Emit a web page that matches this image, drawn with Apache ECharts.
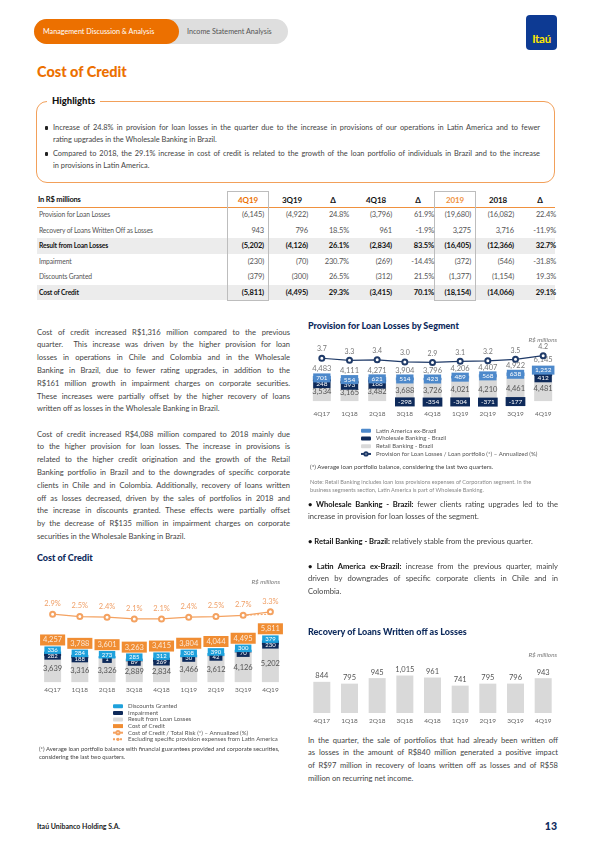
<!DOCTYPE html>
<html><head><meta charset="utf-8">
<script src="https://cdn.jsdelivr.net/npm/echarts@6/dist/echarts.min.js"></script>
<style>
html,body{margin:0;padding:0}
body{width:595px;height:842px;position:relative;background:#fff;font-family:Lato,'Open Sans',sans-serif;color:#3c3c3c;overflow:hidden}
.a{position:absolute}
.ln{position:absolute;white-space:nowrap}
.jl{text-align:justify;text-align-last:justify}
.tb{position:absolute;font-family:Lato,sans-serif;font-size:7.5px;white-space:nowrap;letter-spacing:-0.15px}
</style></head><body>
<div class="a" style="left:34px;top:19px;width:254px;height:25px;border-radius:13px;background:#dedede"></div>
<div class="a" style="left:34px;top:19px;width:145px;height:25px;border-radius:13px;background:#ec7000"></div>
<div class="a" style="left:43px;top:19px;line-height:25px;font-size:7.2px;color:#fff">Management Discussion &amp; Analysis</div>
<div class="a" style="left:187px;top:19px;line-height:25px;font-size:7.2px;color:#555">Income Statement Analysis</div>
<div class="a" style="left:526px;top:15px;width:31px;height:35px;border-radius:4px;background:#0d3a93;color:#ffe600;font-weight:bold;font-size:11.5px;line-height:12px;text-align:center;box-sizing:border-box;padding-top:18px;letter-spacing:-0.3px">Itaú</div>
<div class="a" style="left:37px;top:63px;font-weight:900;font-size:14.5px;line-height:18px;color:#ec7000">Cost of Credit</div>

<div class="a" style="left:36px;top:101px;width:519px;height:82px;border:1px solid #f2a05a;border-radius:11px;box-sizing:border-box"></div>
<div class="a" style="left:47px;top:95px;padding:0 5px;background:#fff;font-weight:900;font-size:9.5px;line-height:12px;color:#111">Highlights</div>

<div id="chartA" class="a" style="left:300px;top:335px;width:258px;height:150px"></div>
<div id="chartB" class="a" style="left:30px;top:585px;width:265px;height:190px"></div>
<div id="chartC" class="a" style="left:300px;top:655px;width:258px;height:75px"></div>

<script>
// ---------- data ----------
const quarters = ['4Q17','1Q18','2Q18','3Q18','4Q18','1Q19','2Q19','3Q19','4Q19'];
// Provision for Loan Losses by Segment
const retailBR      = [3534,3165,3482,3688,3726,4021,4210,4461,4481];
const wholesaleBR   = [248,393,168,-298,-354,-304,-371,-177,412];
const latamExBR     = [701,554,621,514,423,489,568,638,1252];
const provisionTot  = [4483,4111,4271,3904,3796,4206,4407,4922,6145];
const provisionRatio= [3.7,3.3,3.4,3.0,2.9,3.1,3.2,3.5,4.2];
// Cost of Credit
const resultLoanLosses = [3639,3316,3326,2889,2834,3466,3612,4126,5202];
const impairment       = [282,188,1,89,269,30,42,70,230];
const discounts        = [336,284,273,285,312,308,390,300,379];
const costOfCredit     = [4257,3788,3601,3263,3415,3804,4044,4495,5811];
const costRatio        = [2.9,2.5,2.4,2.1,2.1,2.4,2.5,2.7,3.3];
const costRatioExLatam = [null,null,null,null,null,null,null,2.7,2.9];
// Recovery of Loans Written off as Losses
const recovery = [844,795,945,1015,961,741,795,796,943];

// Table
const tableHead = ['In R$ millions','4Q19','3Q19','Δ','4Q18','Δ','2019','2018','Δ'];
const tableRows = [
 ['Provision for Loan Losses','(6,145)','(4,922)','24.8%','(3,796)','61.9%','(19,680)','(16,082)','22.4%'],
 ['Recovery of Loans Written Off as Losses','943','796','18.5%','961','-1.9%','3,275','3,716','-11.9%'],
 ['Result from Loan Losses','(5,202)','(4,126)','26.1%','(2,834)','83.5%','(16,405)','(12,366)','32.7%'],
 ['Impairment','(230)','(70)','230.7%','(269)','-14.4%','(372)','(546)','-31.8%'],
 ['Discounts Granted','(379)','(300)','26.5%','(312)','21.5%','(1,377)','(1,154)','19.3%'],
 ['Cost of Credit','(5,811)','(4,495)','29.3%','(3,415)','70.1%','(18,154)','(14,066)','29.1%']
];
const boldRows = [2,5];

// ---------- text helpers ----------
function lines(arr, x, yc, w, lh, size, color, justifyIdx, extra){
  arr.forEach((t,i)=>{
    const d=document.createElement('div');
    d.className='ln'+(justifyIdx.includes(i)?' jl':'');
    d.style.cssText+=`left:${x}px;top:${yc+i*lh-lh/2}px;width:${w}px;height:${lh}px;line-height:${lh}px;font-size:${size}px;color:${color};`+(extra||'');
    d.innerHTML=t; document.body.appendChild(d);
  });
}
// highlights
const hl1=['Increase of 24.8% in provision for loan losses in the quarter due to the increase in provisions of our operations in Latin America and to fewer','rating upgrades in the Wholesale Banking in Brazil.'];
const hl2=['Compared to 2018, the 29.1% increase in cost of credit is related to the growth of the loan portfolio of individuals in Brazil and to the increase','in provisions in Latin America.'];
lines(hl1,53,128,487,12,7.4,'#444',[0]);
lines(hl2,53,154,487,12,7.4,'#444',[0]);
[128,154].forEach(y=>{const b=document.createElement('div');b.className='a';b.style.cssText=`left:45px;top:${y-1.6}px;width:3.2px;height:3.2px;background:#222;border-radius:1px`;document.body.appendChild(b);});

// table
(function(){
  const x0=37, xR=555, cc=[248,292,333,376,418,455,498,540], hw=20, yH=200, rowY=[215,230.5,246,261.5,277,292.5], rh=15.4;
  boldRows.forEach(r=>{const g=document.createElement('div');g.className='a';g.style.cssText=`left:${x0}px;top:${rowY[r]-rh/2}px;width:${xR-x0}px;height:${rh}px;background:#ececec`;document.body.appendChild(g);});
  const ol=document.createElement('div');ol.className='a';ol.style.cssText=`left:${x0}px;top:206.5px;width:${xR-x0}px;height:1.3px;background:#f0913e`;document.body.appendChild(ol);
  [0,5].forEach(c=>{const b=document.createElement('div');b.className='a';b.style.cssText=`left:${cc[c]-21}px;top:191px;width:42px;height:110px;border:1px solid #bdbdbd;box-sizing:border-box`;document.body.appendChild(b);});
  tableHead.forEach((t,c)=>{
    const d=document.createElement('div');d.className='tb';
    const col = c===1?'#ec7000':(c===6?'#f0913e':'#111');
    if(c===0) d.style.cssText+=`left:${x0+1}px;top:${yH-6}px;line-height:12px;font-weight:bold;color:#111`;
    else d.style.cssText+=`left:${cc[c-1]-hw}px;width:${2*hw}px;text-align:center;top:${yH-6}px;line-height:12px;font-weight:bold;color:${col};font-size:8px`;
    d.textContent=t;document.body.appendChild(d);
  });
  tableRows.forEach((row,r)=>{
    const bold=boldRows.includes(r);
    row.forEach((t,c)=>{
      const d=document.createElement('div');d.className='tb';
      const base=`top:${rowY[r]-6}px;line-height:12px;color:${bold?'#111':'#555'};font-weight:${bold?'bold':'normal'};`;
      if(c===0) d.style.cssText+=`left:${x0+2}px;transform:scaleX(0.9);transform-origin:left center;`+base;
      else d.style.cssText+=`left:${cc[c-1]-hw-6}px;width:${2*hw+2}px;text-align:right;`+base;
      d.textContent=t;document.body.appendChild(d);
    });
  });
})();

// left column text
const p1=['Cost of credit increased R$1,316 million compared to the previous','quarter.&nbsp; This increase was driven by the higher provision for loan','losses in operations in Chile and Colombia and in the Wholesale','Banking in Brazil, due to fewer rating upgrades, in addition to the','R$161 million growth in impairment charges on corporate securities.','These increases were partially offset by the higher recovery of loans','written off as losses in the Wholesale Banking in Brazil.'];
const p2=['Cost of credit increased R$4,088 million compared to 2018 mainly due','to the higher provision for loan losses. The increase in provisions is','related to the higher credit origination and the growth of the Retail','Banking portfolio in Brazil and to the downgrades of specific corporate','clients in Chile and in Colombia. Additionally, recovery of loans written','off as losses decreased, driven by the sales of portfolios in 2018 and','the increase in discounts granted. These effects were partially offset','by the decrease of R$135 million in impairment charges on corporate','securities in the Wholesale Banking in Brazil.'];
lines(p1,37,332,253,12.8,7.6,'#444',[0,1,2,3,4,5]);
lines(p2,37,434,253,12.8,7.6,'#444',[0,1,2,3,4,5,6,7]);

// right column text
lines(['Provision for Loan Losses by Segment'],308,326,250,12,9,'#0d2a5c',[],'font-weight:900');
lines(['R$ millions'],300,339,257,9,6.3,'#777',[],'text-align:right;font-style:italic');
lines(['(*) Average loan portfolio balance, considering the last two quarters.'],310,467,248,8,6.2,'#444',[]);
lines(['Note: Retail Banking includes loan loss provisions expenses of Corporation segment. In the','business segments section, Latin America is part of Wholesale Banking.'],310,482,248,8,5.6,'#888',[]);
lines(['<b style="color:#111">• Wholesale Banking - Brazil:</b> fewer clients rating upgrades led to the','increase in provision for loan losses of the segment.'],308,504,250,12.6,7.6,'#444',[0]);
lines(['<b style="color:#111">• Retail Banking - Brazil:</b> relatively stable from the previous quarter.'],308,541,250,12.6,7.6,'#444',[]);
lines(['<b style="color:#111">• Latin America ex-Brazil:</b> increase from the previous quarter, mainly','driven by downgrades of specific corporate clients in Chile and in','Colombia.'],308,566,250,12.6,7.6,'#444',[0,1]);
lines(['Recovery of Loans Written off as Losses'],308,632,250,12,9,'#0d2a5c',[],'font-weight:900');
lines(['R$ millions'],300,654,257,9,6.3,'#777',[],'text-align:right;font-style:italic');
lines(['In the quarter, the sale of portfolios that had already been written off','as losses in the amount of R$840 million generated a positive impact','of R$97 million in recovery of loans written off as losses and of R$58','million on recurring net income.'],308,740,250,12.8,7.6,'#444',[0,1,2]);

// left chart texts
lines(['Cost of Credit'],37,558,250,12,9,'#0d2a5c',[],'font-weight:900');
lines(['R$ millions'],30,581,250,9,6.3,'#777',[],'text-align:right;font-style:italic');
lines(['(*) Average loan portfolio balance with financial guarantees provided and corporate securities,','considering the last two quarters.'],39,749,250,8.2,5.9,'#444',[]);

// footer
lines(['Itaú Unibanco Holding S.A.'],37,826,200,10,7,'#222',[],'font-weight:bold');
lines(['13'],500,826,57,12,10.5,'#0d2a5c',[],'font-weight:900;text-align:right');

// ---------- charts ----------
const fmt=v=>Number(v).toLocaleString('en-US');
const NAVY='#0e2a5a', LBLUE='#4d89cb', GRAY='#d9d9d9', CYAN='#1ea1dc', ORANGE='#ec7000', LORANGE='#f4a261';

// Chart A
const posTopA = retailBR.map((r,i)=>r+Math.max(wholesaleBR[i],0)+latamExBR[i]);
const chA=echarts.init(document.getElementById('chartA'));
chA.setOption({
  animation:false,
  textStyle:{fontFamily:'Lato'},
  grid:{left:8,width:249,top:10,height:60},
  xAxis:{type:'category',data:quarters,axisLine:{show:false},axisTick:{show:false},axisLabel:{color:'#666',fontSize:6.5,margin:5}},
  yAxis:[{type:'value',min:-700,max:10000,show:false},{type:'value',min:-5.3,max:6.25,show:false}],
  legend:{orient:'vertical',left:55,top:87,itemWidth:10,itemHeight:4,itemGap:0,
    textStyle:{fontSize:6,color:'#555',lineHeight:7.7},
    data:['Latin America ex-Brazil','Wholesale Banking - Brazil','Retail Banking - Brazil','Provision for Loan Losses / Loan portfolio (*) – Annualized (%)']},
  series:[
    {name:'Retail Banking - Brazil',type:'bar',stack:'p',data:retailBR,barWidth:18,itemStyle:{color:GRAY},
     label:{show:true,position:'inside',color:'#555',fontSize:7.5,formatter:p=>fmt(p.value)}},
    {name:'Wholesale Banking - Brazil',type:'bar',stack:'p',itemStyle:{color:NAVY},
     data:wholesaleBR.map(v=>({value:v,label:{offset:[0,v>0?3:0]}})),
     label:{show:true,position:'inside',color:'#fff',backgroundColor:NAVY,padding:[1,3],fontSize:6.5,lineHeight:7,formatter:p=>fmt(p.value)}},
    {name:'Latin America ex-Brazil',type:'bar',stack:'p',data:latamExBR,itemStyle:{color:LBLUE},
     label:{show:true,position:'inside',color:'#fff',backgroundColor:LBLUE,padding:[1,3],fontSize:6.5,lineHeight:7,formatter:p=>fmt(p.value)}},
    {name:'tot',type:'scatter',data:posTopA,symbolSize:0,silent:true,
     label:{show:true,position:'top',distance:3,color:'#555',fontSize:7.5,formatter:p=>fmt(provisionTot[p.dataIndex])}},
    {name:'Provision for Loan Losses / Loan portfolio (*) – Annualized (%)',type:'line',yAxisIndex:1,data:provisionRatio,
     symbol:'emptyCircle',symbolSize:5,itemStyle:{color:'#1f3a68',borderWidth:1.2},lineStyle:{color:'#1f3a68',width:1.2},
     label:{show:true,position:'top',distance:2,color:'#777',fontSize:7,formatter:p=>p.value.toFixed(1)}}
  ]
});

// Chart B
const chB=echarts.init(document.getElementById('chartB'));
chB.setOption({
  animation:false,
  textStyle:{fontFamily:'Lato'},
  grid:{left:9,width:245,top:10,height:90},
  xAxis:{type:'category',data:quarters,axisLine:{show:false},axisTick:{show:false},axisLabel:{color:'#666',fontSize:6.5,margin:1}},
  yAxis:[{type:'value',min:-400,max:12100,show:false},{type:'value',min:-9.1,max:6.15,show:false}],
  legend:{orient:'vertical',left:77,top:113,itemWidth:10,itemHeight:4,itemGap:0,
    textStyle:{fontSize:6,color:'#555',lineHeight:6.6},
    data:['Discounts Granted','Impairment','Result from Loan Losses',{name:'Cost of Credit',icon:'rect'},
      'Cost of Credit / Total Risk (*) – Annualized (%)','Excluding specific provision expenses from Latin America']},
  series:[
    {name:'Result from Loan Losses',type:'bar',stack:'c',data:resultLoanLosses,barWidth:17,itemStyle:{color:GRAY},
     label:{show:true,position:'inside',color:'#555',fontSize:7.5,formatter:p=>fmt(p.value)}},
    {name:'Impairment',type:'bar',stack:'c',data:impairment,itemStyle:{color:NAVY},
     label:{show:true,position:'inside',offset:[0,1],color:'#fff',backgroundColor:NAVY,padding:[0.5,3],fontSize:6,lineHeight:6.5,formatter:p=>fmt(p.value)}},
    {name:'Discounts Granted',type:'bar',stack:'c',data:discounts,itemStyle:{color:CYAN},
     label:{show:true,position:'inside',offset:[0,-2.5],color:'#fff',backgroundColor:CYAN,padding:[0.5,3],fontSize:6,lineHeight:6.5,formatter:p=>fmt(p.value)}},
    {name:'Cost of Credit',type:'scatter',data:costOfCredit,symbolSize:0,itemStyle:{color:ORANGE},silent:true,
     label:{show:true,position:'top',distance:6,color:'#fff',backgroundColor:ORANGE,padding:[1.5,3],fontSize:7.5,formatter:p=>fmt(p.value)}},
    {name:'Cost of Credit / Total Risk (*) – Annualized (%)',type:'line',yAxisIndex:1,data:costRatio,
     symbol:'emptyCircle',symbolSize:5,itemStyle:{color:LORANGE,borderWidth:1.2},lineStyle:{color:LORANGE,width:1.2},
     label:{show:true,position:'top',distance:3,color:'#f0a068',fontSize:7.5,formatter:p=>p.value.toFixed(1)+'%'}},
    {name:'Excluding specific provision expenses from Latin America',type:'line',yAxisIndex:1,symbol:'none',
     itemStyle:{color:LORANGE},lineStyle:{color:LORANGE,width:1,type:[2,1.5]},
     data:costRatioExLatam.map((v,i)=>({value:v,label:{show:i===costRatioExLatam.length-1}})),
     label:{show:true,position:'bottom',distance:2,offset:[9,0],color:'#f0a068',fontSize:7.5,formatter:p=>p.value==null?'':p.value.toFixed(1)+'%'}}
  ]
});

// Chart C
const chC=echarts.init(document.getElementById('chartC'));
chC.setOption({
  animation:false,
  textStyle:{fontFamily:'Lato'},
  grid:{left:8,width:249,top:10,height:48},
  xAxis:{type:'category',data:quarters,axisLine:{show:false},axisTick:{show:false},axisLabel:{color:'#666',fontSize:6.5,margin:4}},
  yAxis:{type:'value',min:0,max:1300,show:false},
  series:[{type:'bar',data:recovery,barWidth:17,itemStyle:{color:GRAY},
    label:{show:true,position:'top',distance:2,color:'#555',fontSize:7.5,formatter:p=>fmt(p.value)}}]
});
</script>
</body></html>
